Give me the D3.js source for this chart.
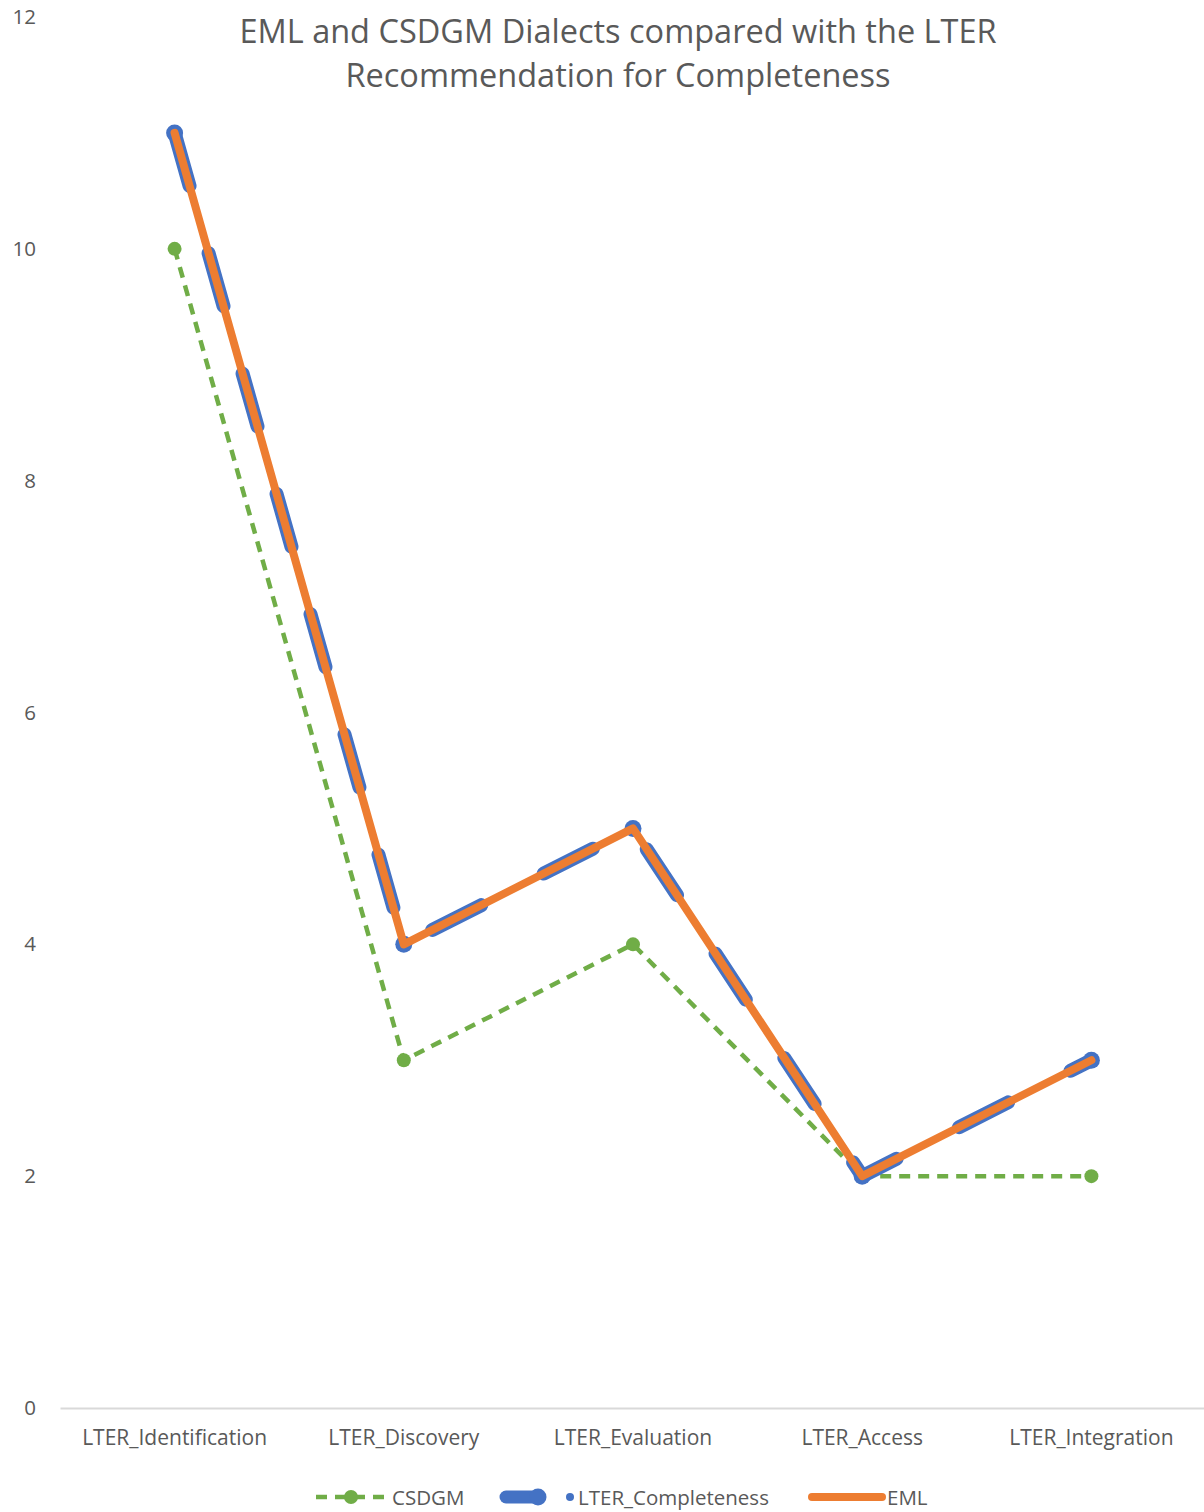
<!DOCTYPE html>
<html>
<head>
<meta charset="utf-8">
<script src="https://cdn.jsdelivr.net/npm/d3@7"></script>
<style>
  body { margin: 0; background: #fff; }
  svg { font-family: "Open Sans", "Liberation Sans", sans-serif; }
</style>
</head>
<body>
<svg id="chart" width="1204" height="1512"></svg>
<script>
'use strict'

const categories = ["LTER_Identification","LTER_Discovery","LTER_Evaluation","LTER_Access","LTER_Integration"]
const csdgm = [10,3,4,2,2]
const lterCompleteness = [11,4,5,2,3]
const eml = [11,4,5,2,3]
const yTicks = [0,2,4,6,8,10,12]
const titleLines = ["EML and CSDGM Dialects compared with the LTER","Recommendation for Completeness"]

const svg = d3.select("#chart")
const grey = "#595959"

let x = d3.scaleBand().domain(categories).range([60,1206])
let y = d3.scaleLinear().domain([0,12]).range([1408,17])
let cx = d => x(d) + x.bandwidth()/2

// title
svg.append("g").selectAll("text").data(titleLines).join("text")
  .attr("x",618).attr("y",(d,i)=>43+i*44)
  .attr("text-anchor","middle").attr("font-size",32.5).attr("fill",grey)
  .text(d=>d)

// y tick labels
svg.append("g").selectAll("text").data(yTicks).join("text")
  .attr("x",36).attr("y",d=>y(d)+7)
  .attr("text-anchor","end").attr("font-size",20.5).attr("fill",grey)
  .text(d=>d)

// x axis
let xAxis = svg.append("g").attr("transform",`translate(0,${y(0)})`)
  .call(d3.axisBottom(x).tickSize(0).tickPadding(22))
xAxis.select(".domain").attr("stroke","#d9d9d9").attr("stroke-width",2)
xAxis.selectAll("text").attr("font-size",21).attr("fill",grey)
  .attr("font-family","'Open Sans', 'Liberation Sans', sans-serif")

let line = d3.line().x((d,i)=>cx(categories[i])).y(d=>y(d))

// CSDGM
svg.append("path").datum(csdgm).attr("d",line)
  .attr("fill","none").attr("stroke","#70ad47").attr("stroke-width",4.5)
  .attr("stroke-dasharray","11 8")
svg.append("g").selectAll("circle").data(csdgm).join("circle")
  .attr("cx",(d,i)=>cx(categories[i])).attr("cy",d=>y(d)).attr("r",7)
  .attr("fill","#70ad47")

// LTER_Completeness
svg.append("path").datum(lterCompleteness).attr("d",line)
  .attr("fill","none").attr("stroke","#4472c4").attr("stroke-width",14)
  .attr("stroke-linecap","round").attr("stroke-linejoin","round")
  .attr("stroke-dasharray","55 70")
svg.append("g").selectAll("circle").data(lterCompleteness).join("circle")
  .attr("cx",(d,i)=>cx(categories[i])).attr("cy",d=>y(d)).attr("r",8.5)
  .attr("fill","#4472c4")

// EML
svg.append("path").datum(eml).attr("d",line)
  .attr("fill","none").attr("stroke","#ed7d31").attr("stroke-width",8)
  .attr("stroke-linecap","round").attr("stroke-linejoin","round")

// legend
let lg = svg.append("g").attr("transform","translate(0,1497)")
lg.append("line").attr("x1",316).attr("x2",388).attr("stroke","#70ad47")
  .attr("stroke-width",4.5).attr("stroke-dasharray","11 8")
lg.append("circle").attr("cx",351).attr("r",7).attr("fill","#70ad47")
lg.append("text").attr("x",392).attr("y",8).attr("font-size",20.5).attr("fill",grey).text("CSDGM")

lg.append("line").attr("x1",506).attr("x2",538).attr("stroke","#4472c4")
  .attr("stroke-width",13).attr("stroke-linecap","round")
lg.append("circle").attr("cx",538).attr("r",8.5).attr("fill","#4472c4")
lg.append("circle").attr("cx",570).attr("r",4).attr("fill","#4472c4")
lg.append("text").attr("x",578).attr("y",8).attr("font-size",20.5).attr("fill",grey).text("LTER_Completeness")

lg.append("line").attr("x1",812).attr("x2",882).attr("stroke","#ed7d31")
  .attr("stroke-width",8).attr("stroke-linecap","round")
lg.append("text").attr("x",887).attr("y",8).attr("font-size",20.5).attr("fill",grey).text("EML")
</script>
</body>
</html>
